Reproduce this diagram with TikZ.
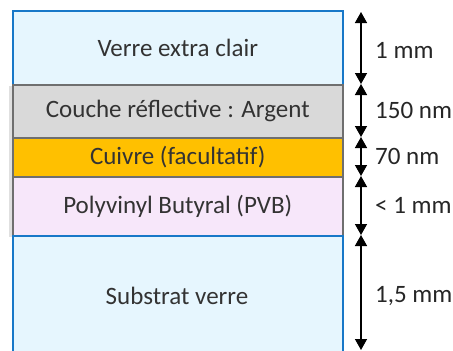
\documentclass[tikz,border=0pt]{standalone}
\usepackage{fontspec}
\setmainfont{Carlito}
\usetikzlibrary{arrows.meta}
\definecolor{glassfill}{HTML}{E6F6FE}
\definecolor{glassline}{HTML}{1878C8}
\definecolor{silverfill}{HTML}{D9D9D9}
\definecolor{greyline}{HTML}{6F6F6F}
\definecolor{copperfill}{HTML}{FFC000}
\definecolor{pvbfill}{HTML}{F7E7FA}
\tikzset{
  layer/.style={minimum width=330pt, inner sep=0pt, anchor=north west, font=\fontsize{25}{29}\selectfont, text=black!80},
  glass/.style={layer, fill=glassfill, draw=glassline, line width=1.5pt},
  grey/.style={layer, draw=greyline, line width=1.5pt},
  dim/.style={{Triangle[width=12pt,length=11pt]}-{Triangle[width=12pt,length=11pt]}, line width=1.4pt, black},
  dimlabel/.style={anchor=west, font=\fontsize{25}{29}\selectfont, text=black!85, inner sep=0pt}
}
\begin{document}
\begin{tikzpicture}[x=1pt,y=-1pt]
\useasboundingbox (0,0) rectangle (453,351);
% shadows
\fill[black!12] (9,86) rectangle (341,237);
\node[glass, minimum height=74pt] (v1) at (12,10) {Verre extra clair};
\node[grey, fill=silverfill, minimum height=53pt] (ag) at (12,84) {Couche réflective : Argent};
\node[grey, fill=copperfill, minimum height=39pt] (cu) at (12,137) {Cuivre (facultatif)};
\node[grey, fill=pvbfill, minimum height=59pt] (pvb) at (12,176) {Polyvinyl Butyral (PVB)};
\node[glass, minimum height=130pt] (sub) at (12,235) {};
\node[font=\fontsize{25}{29}\selectfont, text=black!80] (subt) at (177,296) {Substrat verre};
% dimension points
\coordinate (p0) at (361,12);
\coordinate (p1) at (361,84);
\coordinate (p2) at (361,137);
\coordinate (p3) at (361,176);
\coordinate (p4) at (361,235);
\coordinate (p5) at (361,350);
\draw[dim] (p0) -- (p1);
\draw[dim] (p1) -- (p2);
\draw[dim] (p2) -- (p3);
\draw[dim] (p3) -- (p4);
\draw[dim] (p4) -- (p5);
\node[dimlabel] (l1) at (375,50) {1 mm};
\node[dimlabel] (l2) at (375,110) {150 nm};
\node[dimlabel] (l3) at (375,156) {70 nm};
\node[dimlabel] (l4) at (375,205) {< 1 mm};
\node[dimlabel] (l5) at (375,296) {1,5 mm};
\end{tikzpicture}
\end{document}
